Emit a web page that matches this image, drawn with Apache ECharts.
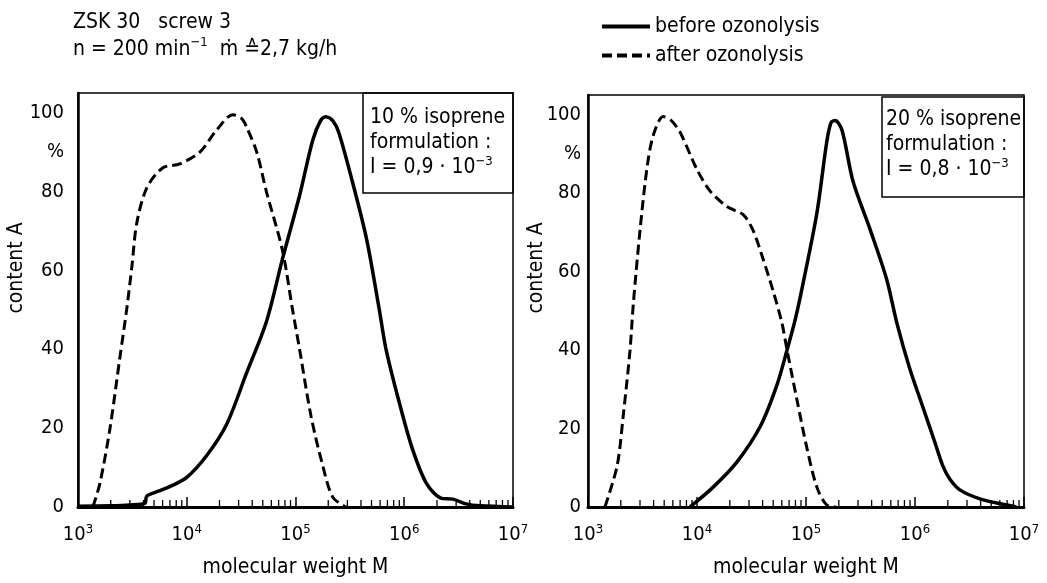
<!DOCTYPE html>
<html>
<head>
<meta charset="utf-8">
<script src="https://cdn.jsdelivr.net/npm/echarts@6/dist/echarts.min.js"></script>
<style>
  html, body { margin: 0; padding: 0; background: #fff; }
  #chart { width: 1047px; height: 583px; }
</style>
</head>
<body>
<div id="chart"></div>
<script>
// ---- data (molecular weight M, content A in %) ----
const beforeLeft = [[1000,0.2],[2000,0.3],[3000,0.5],[4100,0.9],[4300,2.8],[5500,4],[7400,5.5],[10000,7.5],[15200,13],[23300,21],[35500,34],[54000,47],[76000,63],[109000,79],[144000,93],[170000,98],[190000,99],[220000,98],[250000,95],[330000,83],[450000,68],[590000,50],[680000,40],[890000,27],[1180000,15],[1600000,6],[2200000,2.2],[2800000,2],[3700000,0.8],[5000000,0.3],[10000000,0]];
const afterLeft = [[1370,0],[1590,6],[1970,20],[2430,38],[2800,50],[3130,61],[3470,72],[4300,81],[6000,86],[8600,87],[13200,90],[18700,95.5],[26500,99.5],[32000,98.5],[36000,96],[44000,90],[54000,80],[76000,65],[94000,50],[109000,40],[139000,23],[178000,10.5],[220000,2.5],[290000,0]];
const beforeRight = [[8600,0],[14000,5],[23300,11.5],[38000,20.5],[54000,31],[67000,40],[80000,48],[94000,57],[126000,75],[155000,93],[170000,98],[185000,98.5],[214000,96],[270000,83],[390000,70.5],[550000,58],[680000,47],[890000,35.5],[1180000,25.5],[1500000,17],[1800000,10.5],[2100000,7],[2600000,4.3],[4000000,2],[6400000,0.7],[8500000,0]];
const afterRight = [[1430,0],[1850,10.5],[2100,23],[2430,40],[2600,51.5],[3000,70.5],[3500,87],[4000,95],[4900,99.5],[5800,98.5],[7000,95.5],[10000,86],[13200,80.5],[19000,76.5],[26500,74.5],[32700,70.5],[40600,63],[50000,55],[60000,47],[67000,40],[83000,27],[102000,15],[126000,5],[155000,0.5],[190000,0]];

const seriesNames = ['before ozonolysis', 'after ozonolysis'];
const yTickLabels = {0:'0', 20:'20', 40:'40', 60:'60', 80:'80', 90:'%', 100:'100'};
const minorMantissas = [2,3,4,5,6,7,8,9];
const decades = [1e3, 1e4, 1e5, 1e6];
const boxTexts = [
  ['10 % isoprene', 'formulation :', 'I = 0,9 · 10', '−3'],
  ['20 % isoprene', 'formulation :', 'I = 0,8 · 10', '−3']
];

const FONT = "'DejaVu Sans Condensed', 'DejaVu Sans', sans-serif";
const minorTicks = [];
decades.forEach(d => minorMantissas.forEach(m => minorTicks.push([m * d, 0])));

const grids = [
  { left: 78, top: 93, width: 435, height: 421 },
  { left: 588, top: 95, width: 436, height: 419 }
];

function xAxisFor(i) {
  return {
    gridIndex: i, type: 'log', logBase: 10, min: 1e3, max: 1e7,
    axisLine: { show: true, lineStyle: { color: '#000', width: 3 } },
    axisTick: { show: true, inside: true, length: 10, lineStyle: { color: '#000', width: 1.5 } },
    splitLine: { show: false },
    axisLabel: {
      margin: 16,
      formatter: v => '{a|10}{b|' + Math.round(Math.log10(v)) + '}',
      rich: {
        a: { fontSize: 20, lineHeight: 24, fontFamily: FONT, color: '#000' },
        b: { fontSize: 13, lineHeight: 13, verticalAlign: 'top', fontFamily: FONT, color: '#000' }
      }
    },
    name: 'molecular weight M', nameLocation: 'middle', nameGap: 50,
    nameTextStyle: { fontSize: 21, fontFamily: FONT, color: '#000' }
  };
}
function yAxisFor(i, margin) {
  return {
    gridIndex: i, type: 'value', min: 0, max: 105, interval: 5,
    axisLine: { show: true, lineStyle: { color: '#000', width: 2.5 } },
    axisTick: { show: false },
    splitLine: { show: false },
    axisLabel: {
      margin: margin, fontSize: 20, fontFamily: FONT, color: '#000',
      formatter: v => (yTickLabels[v] !== undefined ? yTickLabels[v] : '')
    }
  };
}
function lineSeries(name, data, i, dashed) {
  return {
    type: 'line', name: name, xAxisIndex: i, yAxisIndex: i, data: data,
    symbol: 'none', showSymbol: false, smooth: 0.3,
    lineStyle: { color: '#000', width: dashed ? 3 : 3.5, type: dashed ? [10, 5] : 'solid' },
    itemStyle: { color: '#000' }, z: 3, silent: true
  };
}
function tickSeries(i) {
  return {
    type: 'custom', xAxisIndex: i, yAxisIndex: i, data: minorTicks, silent: true, z: 2,
    renderItem: (params, api) => {
      const p = api.coord([api.value(0), 0]);
      return { type: 'line', shape: { x1: p[0], y1: p[1], x2: p[0], y2: p[1] - 7 },
               style: { stroke: '#000', lineWidth: 1.3 } };
    }
  };
}
function boxGraphic(i, rect, textPos) {
  const t = boxTexts[i];
  return [
    { type: 'rect', shape: rect, style: { fill: 'none', stroke: '#000', lineWidth: 1.5 }, z: 10 },
    { type: 'text', x: textPos[0], y: textPos[1], z: 11,
      style: {
        text: '{t|' + t[0] + '}\n{t|' + t[1] + '}\n{t|' + t[2] + '}{s|' + t[3] + '}',
        rich: {
          t: { fontSize: 21, lineHeight: 25, fontFamily: FONT, fill: '#000' },
          s: { fontSize: 13, lineHeight: 13, verticalAlign: 'top', fontFamily: FONT, fill: '#000' }
        }
      } }
  ];
}

const chart = echarts.init(document.getElementById('chart'));
chart.setOption({
  animation: false,
  backgroundColor: '#fff',
  grid: grids.map(g => Object.assign({ show: true, borderColor: '#000', borderWidth: 1.5, backgroundColor: 'transparent' }, g)),
  xAxis: [xAxisFor(0), xAxisFor(1)],
  yAxis: [yAxisFor(0, 14), yAxisFor(1, 7)],
  legend: {
    data: seriesNames, orient: 'vertical', left: 595, top: 11,
    itemWidth: 48, itemHeight: 14, itemGap: 8, selectedMode: false,
    itemStyle: { opacity: 0 },
    lineStyle: { width: 4 },
    textStyle: { fontSize: 21, lineHeight: 20, fontFamily: FONT, color: '#000' }
  },
  series: [
    lineSeries(seriesNames[0], beforeLeft, 0, false),
    lineSeries(seriesNames[1], afterLeft, 0, true),
    lineSeries(seriesNames[0], beforeRight, 1, false),
    lineSeries(seriesNames[1], afterRight, 1, true),
    tickSeries(0), tickSeries(1)
  ],
  graphic: [
    { type: 'text', x: 73, y: 9,
      style: {
        text: '{t|ZSK 30   screw 3}\n{t|n = 200 min}{s|−1}{t|  ṁ ≙2,7 kg/h}',
        rich: {
          t: { fontSize: 21, lineHeight: 27, fontFamily: FONT, fill: '#000' },
          s: { fontSize: 13, lineHeight: 13, verticalAlign: 'top', fontFamily: FONT, fill: '#000' }
        }
      } },
    { type: 'text', x: 17, y: 268, rotation: Math.PI / 2,
      style: { text: 'content A', fontSize: 21, fontFamily: FONT, fill: '#000', align: 'center', verticalAlign: 'middle' } },
    { type: 'text', x: 537, y: 268, rotation: Math.PI / 2,
      style: { text: 'content A', fontSize: 21, fontFamily: FONT, fill: '#000', align: 'center', verticalAlign: 'middle' } },
    ...boxGraphic(0, { x: 363, y: 93, width: 150, height: 100 }, [370, 105]),
    ...boxGraphic(1, { x: 882, y: 97, width: 142, height: 100 }, [886, 107])
  ]
});
</script>
</body>
</html>
